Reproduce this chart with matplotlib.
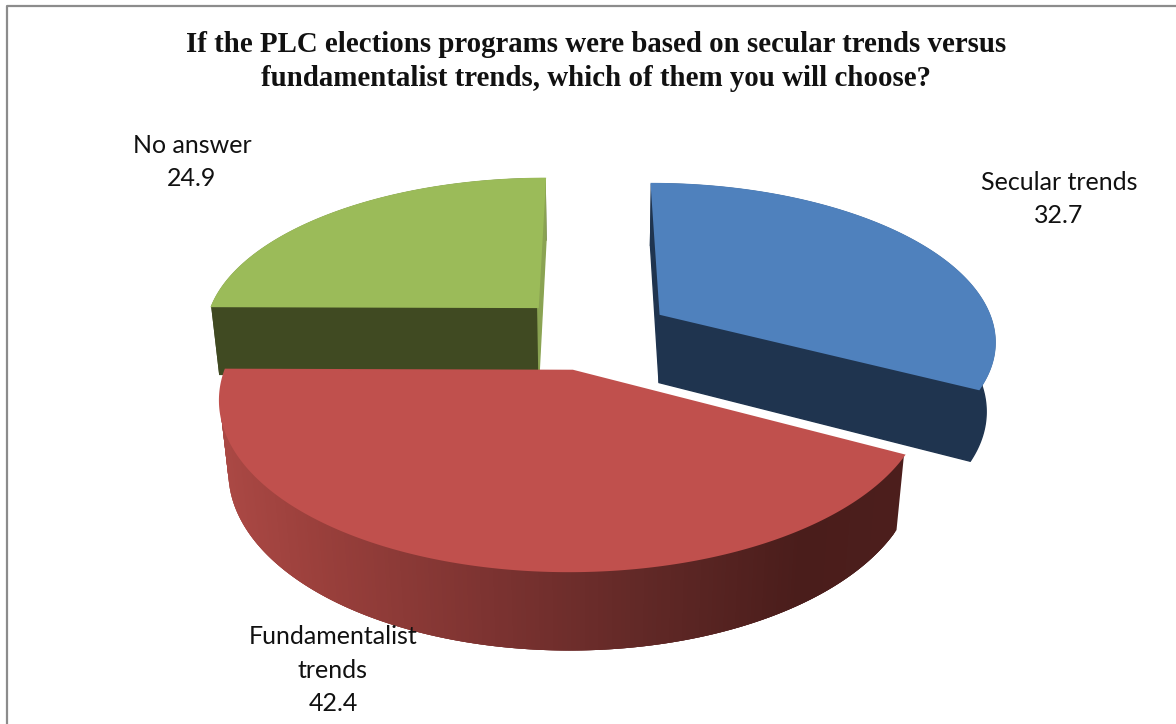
import matplotlib
matplotlib.use('Agg')
import matplotlib.pyplot as plt
import numpy as np

title_lines = ['If the PLC elections programs were based on secular trends versus',
               'fundamentalist trends, which of them you will choose?']
categories = ['Secular trends', 'Fundamentalist\ntrends', 'No answer']
values = [32.7, 42.4, 24.9]

top_colors = ['#4f81bd', '#c0504d', '#9bbb59']
side_colors = ['#1f344f', '#4f1f1c', '#404a22']

# pie projection, in image pixels
CX, CY = 593.0, 333.0
A, B = 335.0, 156.0
DEPTH = 71.0
D = 6.4
DZ = 0.14
EXPLODE = 0.24


def project(x, y, bottom=False):
    # y > 0 is toward the viewer
    x = np.asarray(x, dtype=float)
    y = np.asarray(y, dtype=float)
    if bottom:
        p = D / (D - y + DZ)
        return CX + A * x * p, CY + (B * y + DEPTH) * p
    p = D / (D - y)
    return CX + A * x * p, CY + B * y * p


def rim_color(sx):
    # shading along the red rim, lighter on the left
    stops_x = [225, 310, 500, 650, 800, 900]
    stops_r = [170, 155, 122, 96, 74, 76]
    stops_g = [72, 64, 50, 40, 29, 30]
    stops_b = [68, 60, 48, 38, 27, 28]
    return (np.interp(sx, stops_x, stops_r) / 255,
            np.interp(sx, stops_x, stops_g) / 255,
            np.interp(sx, stops_x, stops_b) / 255)


def draw_slice(ax, start, end, color, side, wall_start=None, wall_end=None, gradient=False):
    mid = np.radians((start + end) / 2)
    ox, oy = EXPLODE * np.sin(mid), -EXPLODE * np.cos(mid)
    ang = np.radians(np.linspace(start, end, 240))
    rx, ry = ox + np.sin(ang), oy - np.cos(ang)

    # outer rim, each strip overlaps the next so no seams show
    tx, ty = project(rx, ry)
    bx, by = project(rx, ry, bottom=True)
    if gradient:
        for i in range(len(ang) - 3):
            j = i + 3
            c = rim_color(tx[i + 1])
            ax.fill([tx[i], tx[j], bx[j], bx[i]], [ty[i], ty[j], by[j], by[i]],
                    color=c, lw=0, zorder=2)
    else:
        ax.fill(np.r_[tx, bx[::-1]], np.r_[ty, by[::-1]], color=side, lw=1.0, zorder=2)

    # straight walls
    for a, c in ((start, wall_start), (end, wall_end)):
        if c is None:
            continue
        t = np.radians(a)
        wx = np.array([ox, ox + np.sin(t)])
        wy = np.array([oy, oy - np.cos(t)])
        wtx, wty = project(wx, wy)
        wbx, wby = project(wx, wy, bottom=True)
        ax.fill([wtx[0], wtx[1], wbx[1], wbx[0]], [wty[0], wty[1], wby[1], wby[0]],
                color=c, lw=1.0, zorder=2)

    # top face
    vx, vy = project(ox, oy)
    ax.fill(np.r_[vx, tx], np.r_[vy, ty], color=color, lw=1.4, zorder=3)


def main():
    fig = plt.figure(figsize=(11.76, 7.24), dpi=100)
    ax = fig.add_axes([0, 0, 1, 1])
    ax.set_xlim(0, 1176)
    ax.set_ylim(724, 0)
    ax.axis('off')

    ax.plot([7, 7, 1176], [724, 6, 6], color='#8c8c8c', lw=1.6, zorder=1)

    shares = np.array(values) / sum(values) * 360
    edges = np.r_[0, np.cumsum(shares)]

    draw_slice(ax, edges[2], edges[3], top_colors[2], side_colors[2],
               wall_start=side_colors[2], wall_end='#8aa352')
    draw_slice(ax, edges[0], edges[1], top_colors[0], side_colors[0],
               wall_start=side_colors[0], wall_end=side_colors[0])
    draw_slice(ax, edges[1], edges[2], top_colors[1], side_colors[1], gradient=True)

    ax.text(596, 44, title_lines[0], family='Liberation Serif', weight='bold', fontsize=20.8,
            color='#111111', ha='center', va='center', zorder=5)
    ax.text(596, 78.5, title_lines[1], family='Liberation Serif', weight='bold', fontsize=20.8,
            color='#111111', ha='center', va='center', zorder=5)

    label_pos = [(1059, 199), (333, 670), (192, 162)]
    for name, val, (lx, ly) in zip(categories, values, label_pos):
        ax.text(lx, ly, f'{name}\n{val}', family='Lato', fontsize=18, color='#111111',
                ha='center', va='center', linespacing=1.56, zorder=5)

    fig.savefig('out.png', dpi=100)
    plt.close(fig)


if __name__ == '__main__':
    main()
